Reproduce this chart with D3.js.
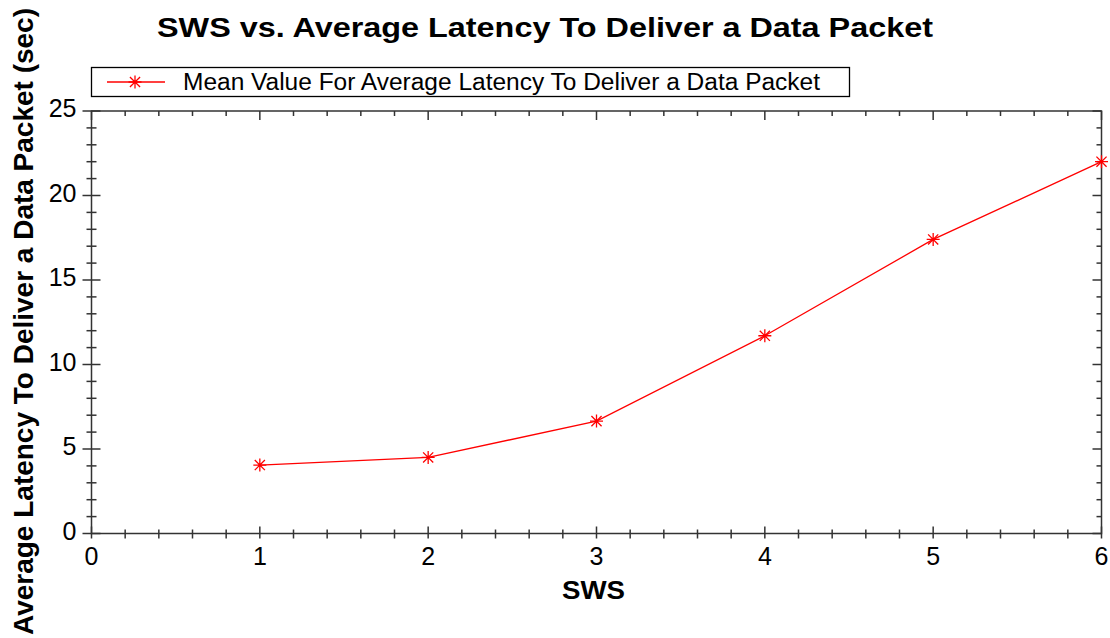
<!DOCTYPE html>
<html>
<head>
<meta charset="utf-8">
<script src="https://cdn.jsdelivr.net/npm/d3@7"></script>
<style>
  html, body { margin: 0; padding: 0; background: #fff; }
  svg { display: block; font-family: "Liberation Sans", Arial, sans-serif; }
</style>
</head>
<body>
<svg id="chart" width="1110" height="638"></svg>
<script>
// Chart data
const swsValues = [1, 2, 3, 4, 5, 6];
const latencyValues = [4.05, 4.5, 6.65, 11.7, 17.4, 22.0];
const xTickLabels = [0, 1, 2, 3, 4, 5, 6];
const yTickLabels = [0, 5, 10, 15, 20, 25];
const titleText = "SWS vs. Average Latency To Deliver a Data Packet";
const legendText = "Mean Value For Average Latency To Deliver a Data Packet";
const xTitle = "SWS";
const yTitle = "Average Latency To Deliver a Data Packet (sec)";

const svg = d3.select("#chart");
const margin = { left: 91.5, right: 8.5, top: 111, bottom: 104.5 };
const W = 1110, H = 638;
const x = d3.scaleLinear().domain([0, 6]).range([margin.left, W - margin.right]);
const y = d3.scaleLinear().domain([0, 25]).range([H - margin.bottom, margin.top]);

const axisColor = "#333";
const red = "#ff0000";

// Frame
svg.append("rect")
  .attr("x", x(0)).attr("y", y(25))
  .attr("width", x(6) - x(0)).attr("height", y(0) - y(25))
  .attr("fill", "none").attr("stroke", axisColor).attr("stroke-width", 1.5);

const xMinor = d3.range(0, 6.001, 0.2).filter(v => Math.abs(v - Math.round(v)) > 1e-6);
const yMinor = d3.range(0, 25.001, 1).filter(v => v % 5 !== 0);

const ticks = svg.append("g").attr("stroke", axisColor).attr("stroke-width", 1.5);
// Bottom axis ticks (crossing the line)
xTickLabels.forEach(v => ticks.append("line").attr("x1", x(v)).attr("x2", x(v)).attr("y1", y(0) - 7).attr("y2", y(0) + 5));
xMinor.forEach(v => ticks.append("line").attr("x1", x(v)).attr("x2", x(v)).attr("y1", y(0) - 4).attr("y2", y(0) + 5));
// Top axis ticks (inward)
xTickLabels.forEach(v => ticks.append("line").attr("x1", x(v)).attr("x2", x(v)).attr("y1", y(25)).attr("y2", y(25) + 9));
xMinor.forEach(v => ticks.append("line").attr("x1", x(v)).attr("x2", x(v)).attr("y1", y(25)).attr("y2", y(25) + 5));
// Left axis ticks (crossing)
yTickLabels.forEach(v => ticks.append("line").attr("y1", y(v)).attr("y2", y(v)).attr("x1", x(0) - 9).attr("x2", x(0) + 9));
yMinor.forEach(v => ticks.append("line").attr("y1", y(v)).attr("y2", y(v)).attr("x1", x(0) - 5).attr("x2", x(0) + 5));
// Right axis ticks (inward)
yTickLabels.forEach(v => ticks.append("line").attr("y1", y(v)).attr("y2", y(v)).attr("x1", x(6)).attr("x2", x(6) - 9));
yMinor.forEach(v => ticks.append("line").attr("y1", y(v)).attr("y2", y(v)).attr("x1", x(6)).attr("x2", x(6) - 5));

// Tick labels
svg.append("g").selectAll("text").data(xTickLabels).join("text")
  .attr("x", d => x(d)).attr("y", y(0) + 31)
  .attr("text-anchor", "middle").attr("font-size", 25).attr("fill", "#000")
  .text(d => d);
svg.append("g").selectAll("text").data(yTickLabels).join("text")
  .attr("x", x(0) - 15).attr("y", d => y(d) + 6)
  .attr("text-anchor", "end").attr("font-size", 25).attr("fill", "#000")
  .text(d => d);

// Titles
svg.append("text").attr("x", 157).attr("y", 37)
  .attr("font-size", 27).attr("font-weight", "bold")
  .attr("textLength", 776).attr("lengthAdjust", "spacingAndGlyphs").text(titleText);
svg.append("text").attr("x", 562).attr("y", 599)
  .attr("font-size", 25).attr("font-weight", "bold")
  .attr("textLength", 63).attr("lengthAdjust", "spacingAndGlyphs").text(xTitle);
svg.append("text").attr("transform", "translate(33,635) rotate(-90)")
  .attr("font-size", 28).attr("font-weight", "bold")
  .attr("textLength", 627).attr("lengthAdjust", "spacingAndGlyphs").text(yTitle);

// Asterisk marker
function star(g, cx, cy, r) {
  const d = r * 0.78;
  const p = `M${cx},${cy - r}L${cx},${cy + r}M${cx - r},${cy}L${cx + r},${cy}` +
            `M${cx - d},${cy - d}L${cx + d},${cy + d}M${cx - d},${cy + d}L${cx + d},${cy - d}`;
  g.append("path").attr("d", p).attr("stroke", red).attr("stroke-width", 1.3).attr("fill", "none");
}

// Series line
const data = swsValues.map((v, i) => ({ x: v, y: latencyValues[i] }));
svg.append("path").datum(data)
  .attr("d", d3.line().x(d => x(d.x)).y(d => y(d.y)))
  .attr("fill", "none").attr("stroke", red).attr("stroke-width", 1.3);
const mk = svg.append("g");
data.forEach(d => star(mk, x(d.x), y(d.y), 6.5));

// Legend
svg.append("rect").attr("x", 91.5).attr("y", 67.5).attr("width", 758).attr("height", 29)
  .attr("fill", "#fff").attr("stroke", "#000").attr("stroke-width", 1.3);
svg.append("line").attr("x1", 107).attr("x2", 165).attr("y1", 82).attr("y2", 82)
  .attr("stroke", red).attr("stroke-width", 1.3);
star(svg, 135, 82, 6.5);
svg.append("text").attr("x", 183).attr("y", 89.5).attr("font-size", 23.5)
  .attr("textLength", 637).attr("lengthAdjust", "spacingAndGlyphs").text(legendText);
</script>
</body>
</html>
